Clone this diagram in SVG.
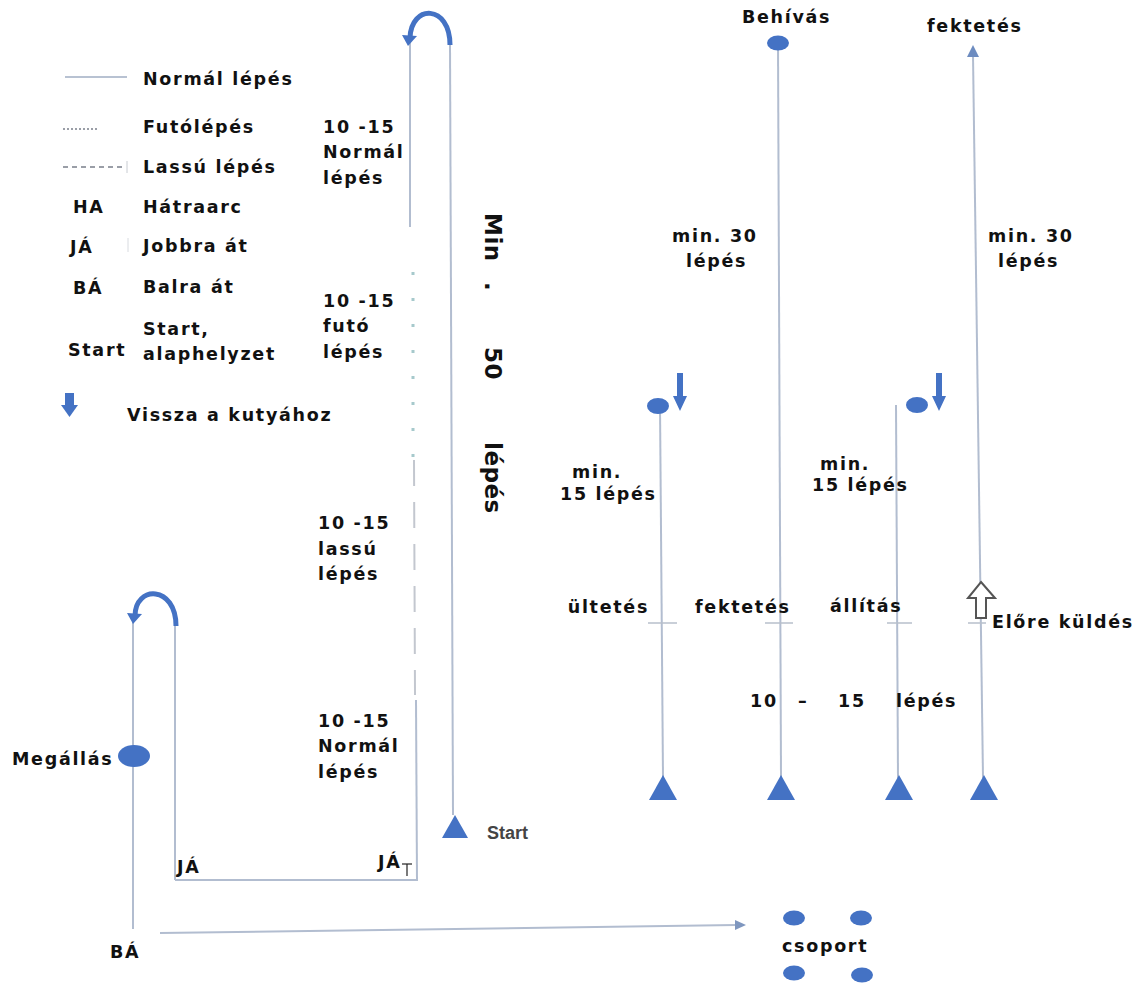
<svg xmlns="http://www.w3.org/2000/svg" width="1147" height="985" viewBox="0 0 1147 985">
<style>
.t{font-family:"DejaVu Sans","Liberation Sans",Arial,sans-serif;font-weight:bold;font-size:17.5px;letter-spacing:1.7px;fill:#111}
.tr{font-family:"DejaVu Sans","Liberation Sans",Arial,sans-serif;font-weight:bold;font-size:23px;letter-spacing:0.5px;fill:#111}
.st{font-family:"Liberation Sans",Arial,sans-serif;font-weight:bold;font-size:18px;fill:#444}
.ln{stroke:#b2bdd0;stroke-width:2;fill:none}
.dot{stroke:#a6c9cc;stroke-width:3;stroke-dasharray:3 23;fill:none}
.dash{stroke:#c3c7cf;stroke-width:2;stroke-dasharray:26 16;fill:none}
.tick{stroke:#b7bfcb;stroke-width:1.5}
.b{fill:#4472C4}
.arc{stroke:#4472C4;stroke-width:5;fill:none}
</style>
<rect width="1147" height="985" fill="#fff"/>

<g id="legend">
  <line x1="65" y1="77" x2="127" y2="77" stroke="#b8c2d2" stroke-width="2"/>
  <text class="t" x="143" y="85">Normál lépés</text>
  <line x1="63" y1="129" x2="97" y2="129" stroke="#7a7f8a" stroke-width="1.5" stroke-dasharray="2 2"/>
  <text class="t" x="143" y="133">Futólépés</text>
  <line x1="63" y1="167" x2="124" y2="167" stroke="#7a7f8a" stroke-width="1.5" stroke-dasharray="5 4"/>
  <line x1="127" y1="161" x2="127" y2="173" stroke="#c8ccd2" stroke-width="1"/>
  <text class="t" x="143" y="173">Lassú lépés</text>
  <text class="t" x="73" y="213">HA</text>
  <text class="t" x="143" y="213">Hátraarc</text>
  <text class="t" x="70" y="253">JÁ</text>
  <line x1="128" y1="238" x2="128" y2="252" stroke="#d8dbe0" stroke-width="1"/>
  <text class="t" x="143" y="252">Jobbra át</text>
  <text class="t" x="73" y="294">BÁ</text>
  <text class="t" x="143" y="293">Balra át</text>
  <text class="t" x="143" y="335">Start,</text>
  <text class="t" x="68" y="356">Start</text>
  <text class="t" x="143" y="360">alaphelyzet</text>
  <rect class="b" x="65" y="393" width="9" height="14"/>
  <polygon class="b" points="61,405 78,405 69.5,417"/>
  <text class="t" x="127" y="421">Vissza a kutyához</text>
</g>

<g id="connectors">
  <line class="ln" x1="410" y1="42" x2="410" y2="227"/>
  <line class="dot" x1="413" y1="272" x2="413" y2="462"/>
  <line class="dash" x1="414" y1="460" x2="415" y2="695"/>
  <line class="ln" x1="416" y1="700" x2="417" y2="881"/>
  <line class="ln" x1="450" y1="44" x2="453" y2="815"/>
  <line class="ln" x1="175" y1="880" x2="417" y2="880"/>
  <line class="ln" x1="175" y1="626" x2="175" y2="880"/>
  <line class="ln" x1="133" y1="622" x2="133" y2="929"/>
  <line class="ln" x1="160" y1="933" x2="736" y2="925"/>
  <polygon points="735,920 746,925 735,930" fill="#7f97bf"/>
  <path class="arc" d="M450 45 C450 4 411 4 410 38"/>
  <polygon class="b" points="402,35 417,36 408,46"/>
  <path class="arc" d="M176 626 C176 585 135 585 135 616"/>
  <polygon class="b" points="127,613 142,614 133,624"/>
  <line class="ln" x1="660" y1="405" x2="663" y2="778"/>
  <line class="ln" x1="778" y1="43" x2="781" y2="778"/>
  <line class="ln" x1="896" y1="405" x2="898" y2="778"/>
  <line class="ln" x1="983" y1="778" x2="973" y2="55"/>
  <polygon points="967,57 979,57 973,45" fill="#6d8cc0"/>
  <line class="tick" x1="648" y1="623" x2="677" y2="623"/>
  <line class="tick" x1="765" y1="623" x2="793" y2="623"/>
  <line class="tick" x1="887" y1="623" x2="912" y2="623"/>
  <line class="tick" x1="968" y1="623" x2="986" y2="623"/>
</g>

<g id="middle-labels">
  <text class="t" x="323" y="133">10 -15</text>
  <text class="t" x="323" y="158">Normál</text>
  <text class="t" x="323" y="184">lépés</text>
  <text class="t" x="323" y="307">10 -15</text>
  <text class="t" x="323" y="332">futó</text>
  <text class="t" x="323" y="358">lépés</text>
  <text class="t" x="318" y="529">10 -15</text>
  <text class="t" x="318" y="555">lassú</text>
  <text class="t" x="318" y="580">lépés</text>
  <text class="t" x="318" y="727">10 -15</text>
  <text class="t" x="318" y="752">Normál</text>
  <text class="t" x="318" y="778">lépés</text>
  <text class="tr" transform="translate(485,213) rotate(90)">Min</text>
  <text class="tr" transform="translate(485,282) rotate(90)">.</text>
  <text class="tr" transform="translate(485,347) rotate(90)">50</text>
  <text class="tr" transform="translate(485,442) rotate(90)">lépés</text>
</g>

<g id="start-left">
  <polygon class="b" points="442,838 468,838 455,815"/>
  <text class="st" x="487" y="839">Start</text>
</g>

<g id="megallas">
  <ellipse class="b" cx="134" cy="756" rx="16" ry="11"/>
  <text class="t" x="12" y="765">Megállás</text>
</g>

<g id="turn-labels">
  <text class="t" x="177" y="873">JÁ</text>
  <text class="t" x="378" y="868">JÁ</text>
  <line x1="402" y1="864" x2="412" y2="864" stroke="#222" stroke-width="1.2"/>
  <line x1="407" y1="864" x2="407" y2="876" stroke="#222" stroke-width="1.2"/>
  <text class="t" x="110" y="958">BÁ</text>
</g>

<g id="csoport">
  <ellipse class="b" cx="794" cy="918" rx="11" ry="7.5"/>
  <ellipse class="b" cx="861" cy="918" rx="11" ry="7.5"/>
  <ellipse class="b" cx="794" cy="973" rx="11" ry="7.5"/>
  <ellipse class="b" cx="862" cy="975" rx="11" ry="7.5"/>
  <text class="t" x="782" y="952">csoport</text>
</g>

<g id="ultetes">
  <ellipse class="b" cx="658" cy="406" rx="11" ry="8"/>
  <rect class="b" x="677" y="373" width="6" height="25"/>
  <polygon class="b" points="673,396 687,396 680,411"/>
  <text class="t" x="572" y="478">min.</text>
  <text class="t" x="560" y="500">15 lépés</text>
  <text class="t" x="649" y="613" text-anchor="end">ültetés</text>
  <polygon class="b" points="649,800 677,800 663,775"/>
</g>

<g id="fektetes-behivas">
  <ellipse class="b" cx="778" cy="43" rx="11" ry="7.5"/>
  <text class="t" x="742" y="23">Behívás</text>
  <text class="t" x="672" y="242">min. 30</text>
  <text class="t" x="686" y="267">lépés</text>
  <text class="t" x="695" y="613">fektetés</text>
  <polygon class="b" points="767,800 795,800 781,775"/>
</g>

<g id="allitas">
  <ellipse class="b" cx="917" cy="405" rx="11" ry="8"/>
  <rect class="b" x="936" y="373" width="6" height="25"/>
  <polygon class="b" points="932,396 946,396 939,411"/>
  <text class="t" x="820" y="470">min.</text>
  <text class="t" x="812" y="491">15 lépés</text>
  <text class="t" x="830" y="612">állítás</text>
  <polygon class="b" points="885,800 913,800 899,775"/>
</g>

<g id="elore-kuldes">
  <text class="t" x="927" y="32">fektetés</text>
  <text class="t" x="988" y="242">min. 30</text>
  <text class="t" x="998" y="267">lépés</text>
  <polygon points="981,582 995,598 986,598 986,618 976,618 976,598 968,598" fill="#fff" stroke="#555" stroke-width="2"/>
  <text class="t" x="992" y="628">Előre küldés</text>
  <polygon class="b" points="970,800 998,800 984,775"/>
</g>

<g id="steps-label">
  <text class="t" x="750" y="707">10</text>
  <text class="t" x="798" y="707">–</text>
  <text class="t" x="838" y="707">15</text>
  <text class="t" x="896" y="707">lépés</text>
</g>
</svg>
